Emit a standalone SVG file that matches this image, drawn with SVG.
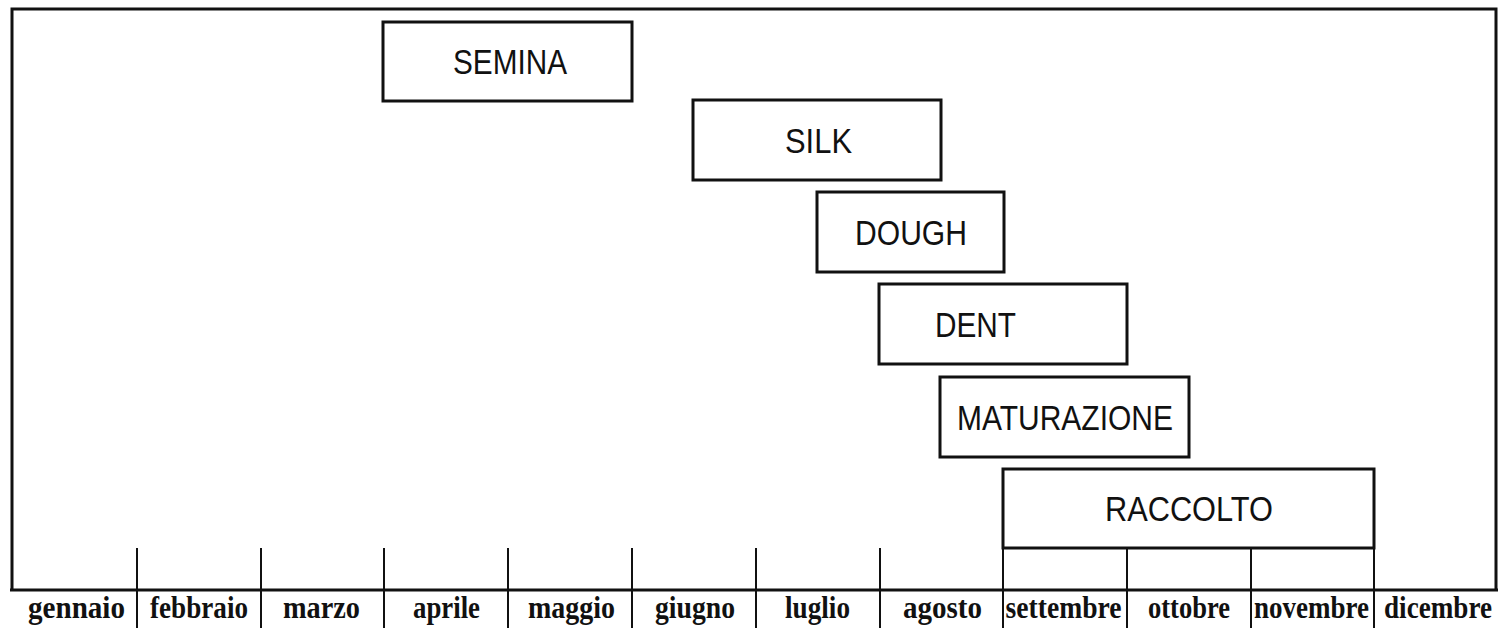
<svg xmlns="http://www.w3.org/2000/svg" width="1503" height="628" viewBox="0 0 1503 628">
<style>
.frame{fill:none;stroke:#111;stroke-width:3}
.box{fill:#fff;stroke:#111;stroke-width:3}
.tick{stroke:#111;stroke-width:2}
.lbl{font-family:"Liberation Sans",Arial,sans-serif;font-size:35px;fill:#111;text-anchor:middle}
.mon{font-family:"Liberation Serif","Times New Roman",serif;font-weight:bold;font-size:32px;fill:#111;text-anchor:middle}
</style>
<rect width="1503" height="628" fill="#fff"/>
<g id="frame">
<polyline class="frame" points="12,590 12,9 1496,9 1496,590"/>
<line class="frame" x1="10" y1="590" x2="1498" y2="590"/>
</g>
<g id="axis">
<line class="tick" x1="137" y1="548" x2="137" y2="628"/>
<line class="tick" x1="261" y1="548" x2="261" y2="628"/>
<line class="tick" x1="384" y1="548" x2="384" y2="628"/>
<line class="tick" x1="508" y1="548" x2="508" y2="628"/>
<line class="tick" x1="632" y1="548" x2="632" y2="628"/>
<line class="tick" x1="756" y1="548" x2="756" y2="628"/>
<line class="tick" x1="880" y1="548" x2="880" y2="628"/>
<line class="tick" x1="1003" y1="548" x2="1003" y2="628"/>
<line class="tick" x1="1127" y1="548" x2="1127" y2="628"/>
<line class="tick" x1="1251" y1="548" x2="1251" y2="628"/>
<line class="tick" x1="1374" y1="548" x2="1374" y2="628"/>
<text class="mon" x="76.5" y="618" textLength="97" lengthAdjust="spacingAndGlyphs">gennaio</text>
<text class="mon" x="199" y="618" textLength="98" lengthAdjust="spacingAndGlyphs">febbraio</text>
<text class="mon" x="321.5" y="618" textLength="77" lengthAdjust="spacingAndGlyphs">marzo</text>
<text class="mon" x="446.5" y="618" textLength="67" lengthAdjust="spacingAndGlyphs">aprile</text>
<text class="mon" x="571.5" y="618" textLength="87" lengthAdjust="spacingAndGlyphs">maggio</text>
<text class="mon" x="695" y="618" textLength="80" lengthAdjust="spacingAndGlyphs">giugno</text>
<text class="mon" x="817.5" y="618" textLength="65" lengthAdjust="spacingAndGlyphs">luglio</text>
<text class="mon" x="942.5" y="618" textLength="79" lengthAdjust="spacingAndGlyphs">agosto</text>
<text class="mon" x="1063.5" y="618" textLength="116" lengthAdjust="spacingAndGlyphs">settembre</text>
<text class="mon" x="1189" y="618" textLength="82" lengthAdjust="spacingAndGlyphs">ottobre</text>
<text class="mon" x="1311.5" y="618" textLength="115" lengthAdjust="spacingAndGlyphs">novembre</text>
<text class="mon" x="1438" y="618" textLength="108" lengthAdjust="spacingAndGlyphs">dicembre</text>
</g>
<g id="semina">
<rect class="box" x="383" y="22" width="249" height="79"/>
<text class="lbl" x="510" y="74" textLength="114" lengthAdjust="spacingAndGlyphs">SEMINA</text>
</g>
<g id="silk">
<rect class="box" x="693" y="100" width="248" height="80"/>
<text class="lbl" x="818.5" y="153" textLength="67" lengthAdjust="spacingAndGlyphs">SILK</text>
</g>
<g id="dough">
<rect class="box" x="817" y="192" width="187" height="80"/>
<text class="lbl" x="911" y="245" textLength="112" lengthAdjust="spacingAndGlyphs">DOUGH</text>
</g>
<g id="dent">
<rect class="box" x="879" y="284" width="248" height="80"/>
<text class="lbl" x="975.5" y="337" textLength="81" lengthAdjust="spacingAndGlyphs">DENT</text>
</g>
<g id="maturazione">
<rect class="box" x="940" y="377" width="249" height="80"/>
<text class="lbl" x="1065" y="430" textLength="216" lengthAdjust="spacingAndGlyphs">MATURAZIONE</text>
</g>
<g id="raccolto">
<rect class="box" x="1003" y="469" width="371" height="79"/>
<text class="lbl" x="1189" y="521" textLength="168" lengthAdjust="spacingAndGlyphs">RACCOLTO</text>
</g>
<g id="connectors"></g>
</svg>
